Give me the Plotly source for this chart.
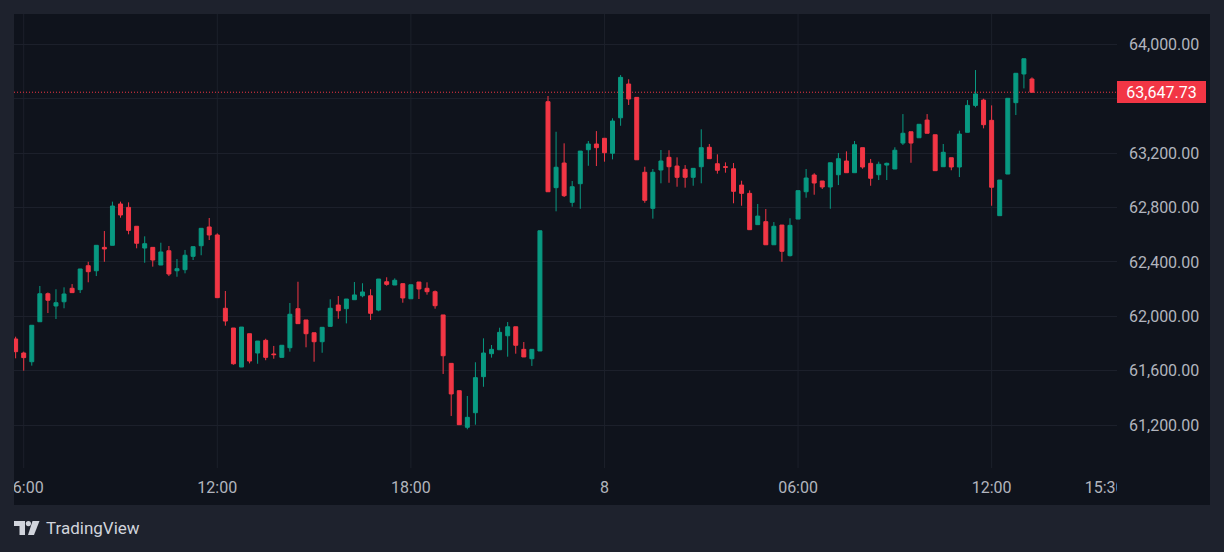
import pandas as pd
import plotly.graph_objects as go

# ---------------- data (15-minute candles) ----------------
start_time = "2024-03-07 05:45"
opens = [61833, 61730, 61666, 61960, 62166, 62076, 62107, 62206, 62196, 62372,
         62335, 62507, 62522, 62826, 62801, 62662, 62502, 62507, 62377, 62482,
         62335, 62343, 62441, 62519, 62657, 62598, 62059, 61914, 61627, 61872,
         61730, 61823, 61723, 61698, 61769, 62056, 61973, 61879, 61813, 61926,
         62083, 62056, 62122, 62151, 62151, 62046, 62254, 62230, 62240, 62129,
         62252, 62206, 62181, 62010, 61654, 61453, 61184, 61291, 61556, 61725,
         61754, 61857, 61923, 61757, 61688, 61745, 63578, 62946, 63127, 62838,
         62975, 63225, 63267, 63309, 63199, 63460, 63708, 63610, 63059, 62794,
         63076, 63169, 63105, 63081, 63022, 63100, 63243, 63122, 63100, 63085,
         62965, 62904, 62674, 62696, 62526, 62671, 62446, 62715, 62916, 63039,
         62995, 62951, 63041, 63142, 63056, 63240, 63125, 63041, 63112, 63083,
         63274, 63357, 63313, 63443, 63335, 63100, 63166, 63098, 63353, 63551,
         63590, 63441, 62740, 63046, 63571, 63782, 63745]
highs = [61850, 61740, 61934, 62223, 62175, 62199, 62213, 62237, 62348, 62401,
         62522, 62627, 62843, 62843, 62838, 62662, 62588, 62507, 62541, 62517,
         62421, 62488, 62512, 62647, 62723, 62610, 62186, 61914, 61921, 61872,
         61818, 61835, 61782, 61787, 62098, 62254, 61973, 61879, 61919, 62125,
         62149, 62127, 62252, 62243, 62199, 62274, 62287, 62279, 62240, 62232,
         62252, 62250, 62190, 62010, 61654, 61453, 61414, 61662, 61838, 61789,
         61916, 61958, 61923, 61811, 61757, 62629, 63620, 63357, 63272, 62995,
         63215, 63289, 63362, 63309, 63456, 63774, 63743, 63610, 63100, 63083,
         63223, 63221, 63169, 63112, 63088, 63375, 63267, 63191, 63132, 63127,
         62997, 62926, 62826, 62789, 62693, 62671, 62721, 62924, 63083, 63052,
         62995, 63129, 63201, 63213, 63289, 63240, 63157, 63137, 63130, 63243,
         63487, 63357, 63412, 63487, 63335, 63267, 63166, 63365, 63590, 63811,
         63600, 63551, 63002, 63603, 63787, 63894, 63757]
lows = [61691, 61600, 61637, 61960, 62024, 61980, 62059, 62174, 62171, 62250,
        62296, 62401, 62522, 62725, 62603, 62500, 62394, 62365, 62377, 62296,
        62291, 62316, 62414, 62449, 62561, 62137, 61931, 61644, 61627, 61654,
        61651, 61677, 61688, 61698, 61740, 61946, 61772, 61666, 61732, 61926,
        61982, 61948, 62122, 62140, 61973, 62037, 62225, 62230, 62100, 62129,
        62127, 62159, 62056, 61576, 61267, 61203, 61169, 61203, 61482, 61696,
        61754, 61703, 61725, 61701, 61635, 61745, 62916, 62772, 62877, 62806,
        62791, 63107, 63105, 63137, 63154, 63401, 63554, 63151, 62835, 62718,
        62978, 62982, 62953, 62946, 62960, 62978, 63159, 63049, 63056, 62831,
        62813, 62637, 62674, 62526, 62526, 62401, 62440, 62715, 62872, 62894,
        62936, 62791, 62965, 63056, 63056, 63085, 62960, 63002, 63002, 63083,
        63260, 63129, 63313, 63346, 63071, 63100, 63074, 63024, 63353, 63537,
        63382, 62813, 62740, 63046, 63480, 63676, 63647.73]
closes = [61740, 61696, 61934, 62166, 62118, 62100, 62164, 62174, 62348, 62328,
          62522, 62495, 62811, 62745, 62632, 62537, 62534, 62414, 62473, 62311,
          62350, 62449, 62512, 62647, 62598, 62137, 61965, 61651, 61921, 61671,
          61818, 61698, 61718, 61787, 62015, 61946, 61872, 61813, 61919, 62059,
          62041, 62127, 62157, 62179, 62022, 62274, 62235, 62265, 62135, 62232,
          62201, 62181, 62078, 61710, 61429, 61203, 61257, 61549, 61730, 61757,
          61882, 61923, 61787, 61701, 61757, 62629, 62916, 63096, 62887, 62953,
          63215, 63267, 63240, 63203, 63436, 63757, 63598, 63151, 62853, 63059,
          63142, 63100, 63022, 63022, 63088, 63240, 63159, 63074, 63096, 62919,
          62904, 62637, 62737, 62526, 62662, 62478, 62669, 62924, 63017, 62980,
          62951, 63129, 63159, 63056, 63262, 63098, 63015, 63118, 63125, 63221,
          63346, 63274, 63412, 63346, 63071, 63206, 63098, 63340, 63551, 63635,
          63409, 62949, 63002, 63603, 63787, 63894, 63647.73]

times = pd.date_range(start_time, periods=len(opens), freq="15min")

x_tick_vals = ["2024-03-07 06:00", "2024-03-07 12:00", "2024-03-07 18:00",
               "2024-03-08 00:00", "2024-03-08 06:00", "2024-03-08 12:00",
               "2024-03-08 15:30"]
x_tick_text = ["06:00", "12:00", "18:00", "8", "06:00", "12:00", "15:30"]
x_grid_vals = x_tick_vals[:6]
y_tick_vals = [61200, 61600, 62000, 62400, 62800, 63200, 63600, 64000]
y_tick_text = ["61,200.00", "61,600.00", "62,000.00", "62,400.00",
               "62,800.00", "63,200.00", "", "64,000.00"]  # 63,600 hidden under price label
last_price = closes[-1]

# ---------------- styling ----------------
W, H = 1224, 552
ML, MR, MT, MB = 14, 107, 14, 84
PW, PH = W - ML - MR, H - MT - MB
OUTER = "#1e222d"
PANEL = "#0f131c"
GRID = "#1c202b"
TXT = "#b2b5be"
UP, DOWN = "#089981", "#F23645"
FONT = "Roboto"


def px2x(px):
    return (px - ML) / PW


def px2y(py):
    return (H - MB - py) / PH


fig = go.Figure(go.Candlestick(
    x=times, open=opens, high=highs, low=lows, close=closes,
    increasing=dict(line=dict(color=UP, width=1), fillcolor=UP),
    decreasing=dict(line=dict(color=DOWN, width=1), fillcolor=DOWN),
    whiskerwidth=0, showlegend=False, hoverinfo="skip",
))

shapes = []
# panel background
shapes.append(dict(type="rect", xref="paper", yref="paper", layer="below",
                   x0=px2x(14), x1=px2x(1210), y0=px2y(14), y1=px2y(505),
                   fillcolor=PANEL, line=dict(width=0)))
# vertical grid lines
for gv in x_grid_vals:
    shapes.append(dict(type="line", xref="x", yref="paper", layer="below",
                       x0=gv, x1=gv, y0=0, y1=1, line=dict(color=GRID, width=1)))
# last price dotted line
shapes.append(dict(type="line", xref="paper", yref="y", layer="below",
                   x0=0, x1=1, y0=last_price, y1=last_price,
                   line=dict(color=DOWN, width=1, dash="1px,2px")))
# clip masks
shapes.append(dict(type="rect", xref="paper", yref="paper", layer="above",
                   x0=px2x(0), x1=px2x(14), y0=px2y(0), y1=px2y(552),
                   fillcolor=OUTER, line=dict(width=0)))
shapes.append(dict(type="rect", xref="paper", yref="paper", layer="above",
                   x0=px2x(1117), x1=px2x(1210), y0=px2y(469), y1=px2y(505),
                   fillcolor=PANEL, line=dict(width=0)))


def path(points):
    s = "M " + " L ".join(f"{px2x(a):.5f},{px2y(b):.5f}" for a, b in points) + " Z"
    return s


LOGO = "#d1d4dc"
shapes.append(dict(type="path", xref="paper", yref="paper", layer="above",
                   path=path([(14, 521), (25, 521), (25, 535), (19.5, 535), (19.5, 526), (14, 526)]),
                   fillcolor=LOGO, line=dict(width=0)))
shapes.append(dict(type="circle", xref="paper", yref="paper", layer="above",
                   x0=px2x(25.8), x1=px2x(31.0), y0=px2y(521), y1=px2y(526.2),
                   fillcolor=LOGO, line=dict(width=0)))
shapes.append(dict(type="path", xref="paper", yref="paper", layer="above",
                   path=path([(32.5, 521), (39.5, 521), (34, 535), (28, 535)]),
                   fillcolor=LOGO, line=dict(width=0)))

annotations = [
    dict(xref="paper", yref="y", x=1, y=last_price, xanchor="left", yanchor="middle",
         text=f"{last_price:,.2f}", showarrow=False, bgcolor=DOWN, bordercolor=DOWN,
         borderwidth=1, borderpad=0, width=87, height=20,
         font=dict(family=FONT, size=16, color="#ffffff")),
    dict(xref="paper", yref="paper", x=px2x(44), y=px2y(528), xanchor="left",
         yanchor="middle", text="TradingView", showarrow=False,
         font=dict(family=FONT, size=17, color=LOGO)),
]

fig.update_layout(
    template="none",
    width=W, height=H, autosize=False,
    margin=dict(l=ML, r=MR, t=MT, b=MB, pad=0),
    paper_bgcolor=OUTER, plot_bgcolor=PANEL,
    font=dict(family=FONT, size=16, color=TXT),
    shapes=shapes, annotations=annotations,
    boxgap=0.3,
    xaxis=dict(
        type="date", automargin=False,
        range=["2024-03-07 05:41:57", "2024-03-08 15:53:07"],
        rangeslider=dict(visible=False),
        tickvals=x_tick_vals, ticktext=x_tick_text,
        showgrid=False, zeroline=False, showline=False, ticks="",
        ticklabelstandoff=8,
        tickfont=dict(family=FONT, size=16, color=TXT),
        fixedrange=True,
    ),
    yaxis=dict(
        side="right", automargin=False,
        range=[60884.5, 64223],
        tickvals=y_tick_vals, ticktext=y_tick_text,
        showgrid=True, gridcolor=GRID, gridwidth=1,
        zeroline=False, showline=False, ticks="",
        ticklabelstandoff=11,
        tickfont=dict(family=FONT, size=16, color=TXT),
        fixedrange=True,
    ),
)

fig.write_html("out.html")
